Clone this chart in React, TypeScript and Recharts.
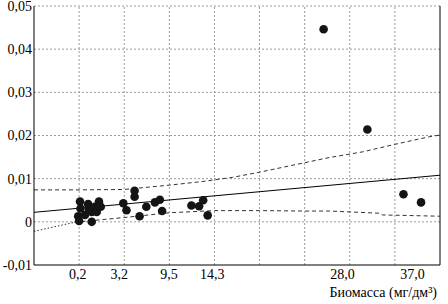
import React from 'react';
import { ComposedChart, Scatter, Line, XAxis, YAxis, ReferenceLine, Label } from 'recharts';

// Observations: x in axis units (grid step = 1), y = measured value
const pointX = [1.02, 1.03, 0.98, 1.0, 1.2, 1.22, 1.13, 1.28, 1.28, 1.35, 1.39, 1.44, 1.48,
  1.98, 2.05, 2.23, 2.23, 2.34, 2.49, 2.68, 2.79, 2.84,
  3.49, 3.66, 3.75, 3.85,
  6.42, 7.39, 8.19, 8.58];
const pointY = [0.0047, 0.0031, 0.0013, 0.0002, 0.0041, 0.0029, 0.0016, 0.0023, 0.0, 0.0035, 0.0023, 0.0047, 0.0035,
  0.0043, 0.0027, 0.0072, 0.0058, 0.0013, 0.0035, 0.0045, 0.0051, 0.0025,
  0.0038, 0.0036, 0.005, 0.0015,
  0.0446, 0.0214, 0.0064, 0.0045];

// Regression line
const fitX = [0, 9];
const fitY = [0.0022, 0.0108];

// Upper confidence band
const upperX = [0, 1, 2, 2.2, 3, 3.7, 4.4, 5, 6, 6.55, 7.28, 8.02, 8.76, 9];
const upperY = [0.0074, 0.0074, 0.0075, 0.0077, 0.0085, 0.0093, 0.0103, 0.0115, 0.0137, 0.0149, 0.0162, 0.018, 0.0197, 0.0201];

// Lower confidence band (dotted start, dashed rest)
const lowerAX = [0, 0.9];
const lowerAY = [-0.0022, -0.0001];
const lowerBX = [0.9, 2, 3, 4, 5, 6, 6.55, 7.65, 7.72, 9];
const lowerBY = [-0.0001, 0.001, 0.0021, 0.0026, 0.0026, 0.0025, 0.0025, 0.002, 0.0016, 0.0013];

// Axis ticks
const xTickPos = [0.97, 1.89, 2.99, 3.95, 6.84, 8.39];
const xTickLabels = ['0,2', '3,2', '9,5', '14,3', '28,0', '37,0'];
const xGrid = [1, 2, 3, 4, 5, 6, 7, 8];
const yTicks = [-0.01, 0, 0.01, 0.02, 0.03, 0.04, 0.05];
const yGrid = [0, 0.01, 0.02, 0.03, 0.04, 0.05];
const xTitle = 'Биомасса (мг/дм³)';

const zip = (xs: number[], ys: number[]) => xs.map((x, i) => ({ x, y: ys[i] }));

const points = zip(pointX, pointY);
const fit = zip(fitX, fitY);
const upper = zip(upperX, upperY);
const lowerA = zip(lowerAX, lowerAY);
const lowerB = zip(lowerBX, lowerBY);

const FONT = 'Liberation Serif, DejaVu Serif, serif';

const fmtY = (v: number) => (Math.abs(v) < 1e-9 ? '0' : v.toFixed(2).replace('.', ','));
const fmtX = (v: number) => {
  const i = xTickPos.findIndex((p) => Math.abs(p - v) < 1e-6);
  return i >= 0 ? xTickLabels[i] : '';
};

const Dot = (props: any) => {
  const { cx, cy } = props;
  if (cx == null || cy == null) return null;
  return <circle cx={cx} cy={cy} r={4.3} fill="#141414" />;
};

const gridStyle = { stroke: '#9a9a9a', strokeWidth: 1, strokeDasharray: '2 2' };

export default function App() {
  return (
    <div style={{ position: 'absolute', left: 0, top: 0, background: '#fff', fontFamily: FONT }}>
      <ComposedChart width={448} height={304} margin={{ top: 6, right: 8, bottom: 0, left: 0 }}>
        {yGrid.map((v) => (
          <ReferenceLine key={'gy' + v} y={v} {...gridStyle} />
        ))}
        {xGrid.map((v) => (
          <ReferenceLine key={'gx' + v} x={v} {...gridStyle} />
        ))}
        <XAxis
          type="number"
          dataKey="x"
          domain={[0, 9]}
          ticks={xTickPos}
          tickFormatter={fmtX}
          interval={0}
          tickLine={false}
          tickSize={0}
          tickMargin={4}
          height={39}
          axisLine={{ stroke: '#000', strokeWidth: 1 }}
          tick={{ fill: '#000', fontSize: 14, fontFamily: FONT }}
          allowDataOverflow
        >
          <Label
            content={(lp: any) => {
              const vb = lp.viewBox || {};
              return (
                <text
                  x={vb.x + vb.width - 3}
                  y={vb.y + 32}
                  textAnchor="end"
                  fill="#000"
                  fontSize={14}
                  fontFamily={FONT}
                >
                  {xTitle}
                </text>
              );
            }}
          />
        </XAxis>
        <YAxis
          type="number"
          dataKey="y"
          domain={[-0.01, 0.05]}
          ticks={yTicks}
          tickFormatter={fmtY}
          interval={0}
          width={34}
          tickLine={false}
          tickSize={0}
          tickMargin={2}
          axisLine={{ stroke: '#000', strokeWidth: 1 }}
          tick={{ fill: '#000', fontSize: 14, fontFamily: FONT }}
          allowDataOverflow
        />
        <ReferenceLine x={9} stroke="#000" strokeWidth={1} />
        <Line data={upper} dataKey="y" type="linear" stroke="#333" strokeWidth={1} strokeDasharray="4 3" dot={false} activeDot={false} isAnimationActive={false} />
        <Line data={lowerA} dataKey="y" type="linear" stroke="#333" strokeWidth={1} strokeDasharray="1.5 2" dot={false} activeDot={false} isAnimationActive={false} />
        <Line data={lowerB} dataKey="y" type="linear" stroke="#333" strokeWidth={1} strokeDasharray="4 3" dot={false} activeDot={false} isAnimationActive={false} />
        <Line data={fit} dataKey="y" type="linear" stroke="#000" strokeWidth={1} dot={false} activeDot={false} isAnimationActive={false} />
        <Scatter data={points} dataKey="y" shape={<Dot />} isAnimationActive={false} />
      </ComposedChart>
    </div>
  );
}
